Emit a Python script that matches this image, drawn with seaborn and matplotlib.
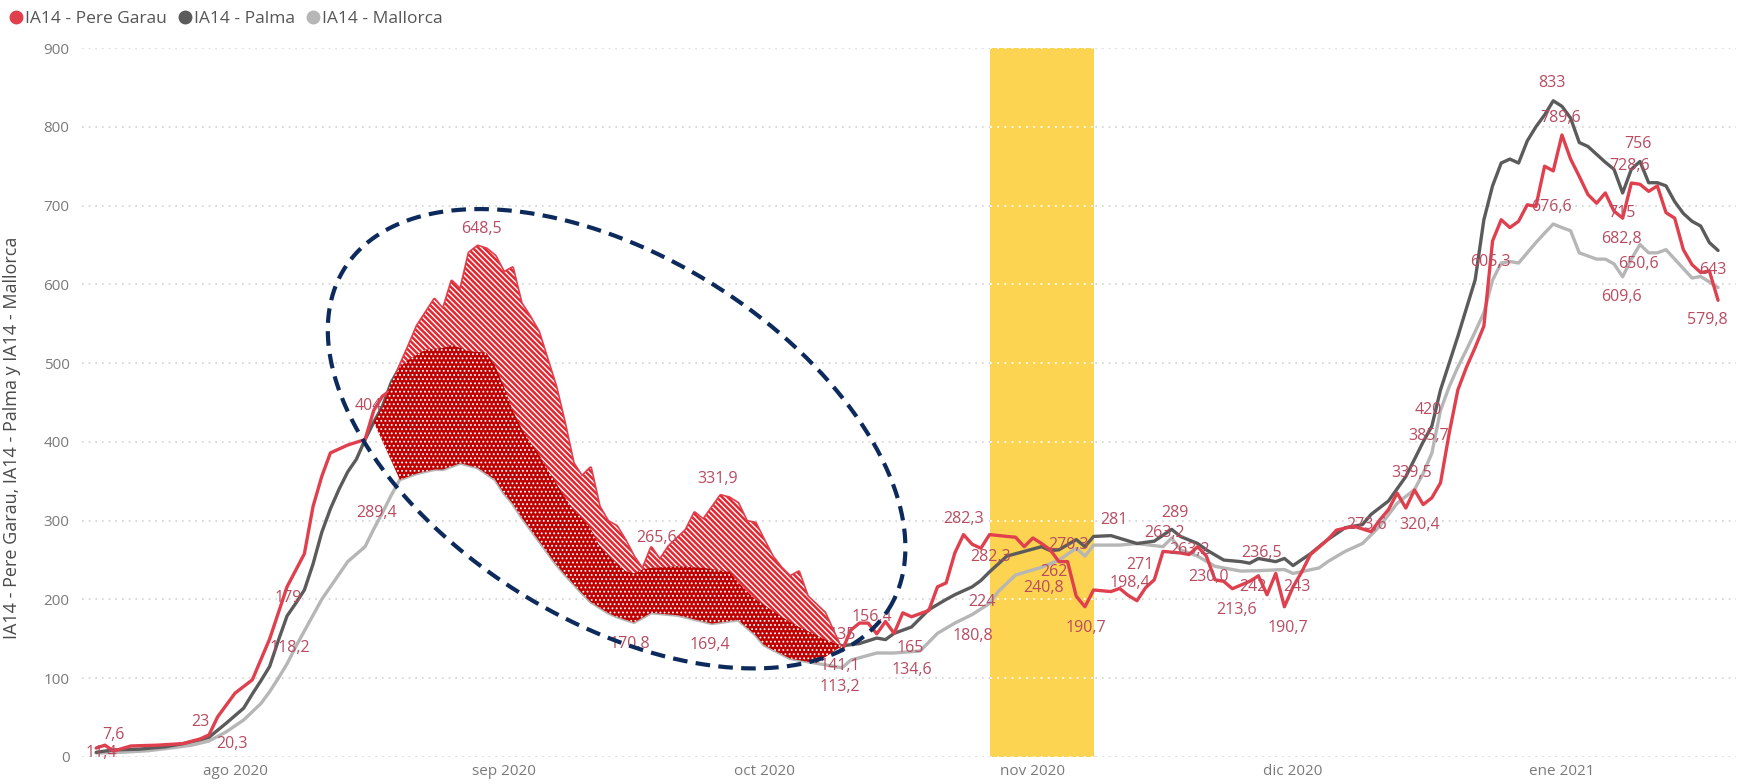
import numpy as np
import pandas as pd
import seaborn as sns
import matplotlib
matplotlib.use("Agg")
import matplotlib.pyplot as plt
import matplotlib.dates as mdates
from matplotlib.lines import Line2D

# ---- data ----------------------------------------------------------------
PERE_GARAU = "IA14 - Pere Garau"
PALMA = "IA14 - Palma"
MALLORCA = "IA14 - Mallorca"

pg_dates = (
    ["2020-07-16", "2020-07-17", "2020-07-18", "2020-07-20", "2020-07-23", "2020-07-26", "2020-07-28", "2020-07-29", "2020-07-30"]
    + ["2020-08-%02d" % d for d in [1, 3, 5, 7, 9, 10, 11, 12, 14, 16, 17, 18, 19, 20, 21, 22, 24, 25, 26, 27, 28, 29, 30, 31]]
    + ["2020-09-%02d" % d for d in [1, 2, 3, 4, 5, 6, 7, 8, 9, 10, 11, 12, 13, 14, 15, 16, 17, 18, 19, 20, 22, 23, 24, 26, 27, 28, 29, 30]]
    + ["2020-10-%02d" % d for d in [1, 2, 3, 4, 5, 6, 8, 10, 11, 12, 13, 14, 15, 16, 17, 18, 20, 21, 22, 23, 24, 25, 26, 27, 29, 30, 31]]
    + ["2020-11-%02d" % d for d in [1, 2, 3, 4, 5, 6, 7, 8, 10, 11, 12, 13, 14, 15, 16, 18, 19, 20, 21, 22, 23, 24, 26, 27, 28, 29, 30]]
    + ["2020-12-%02d" % d for d in [1, 2, 3, 5, 6, 8, 10, 11, 12, 13, 14, 15, 16, 17, 18, 19, 20, 21, 22, 23, 24, 25, 26, 27, 28, 29, 30, 31]]
    + ["2021-01-%02d" % d for d in range(1, 20)]
)
pg_values = [
    11.4, 15, 7.6, 14, 15, 17, 23, 28, 51,
    81, 98, 150, 216, 258, 318, 356, 386, 396, 403, 440, 458, 466, 496, 521, 547, 581, 568, 604, 593, 640, 648.5, 645, 636,
    615, 621, 576, 559, 540, 505, 470, 424, 373, 356, 367, 318, 299, 293, 275, 254, 238, 265.6, 250, 267, 288, 310, 301, 331.9, 329, 322, 299, 297,
    275, 254, 240, 229, 235, 204, 183, 135, 161, 170, 170, 156.4, 172, 157, 183, 178, 186, 216, 221, 259, 282.3, 270, 265, 282.3, 280, 279, 267,
    278, 271, 263, 248, 248, 204, 190.7, 212, 210, 214, 205, 198.4, 215, 225, 261, 259, 257, 267, 255, 225, 223, 213.6, 223, 230, 206, 233, 190.7,
    216, 235, 257, 276, 288, 293, 286, 301, 314, 335, 316, 339, 320.4, 329, 348, 411, 466, 495, 520, 547, 655, 682, 672, 680, 701, 699, 750, 744,
    789.6, 759, 737, 714, 703, 716, 693, 684, 728.6, 727, 718, 725, 691, 684, 644, 625, 615, 617, 579.8,
]

palma_dates = (
    ["2020-07-%02d" % d for d in [16, 18, 21, 24, 26, 28, 29, 31]]
    + ["2020-08-%02d" % d for d in [2, 3, 4, 5, 6, 7, 8, 9, 10, 11, 12, 13, 14, 15, 16, 17, 18, 19, 20, 21, 23, 25, 26, 28, 30, 31]]
    + ["2020-09-%02d" % d for d in [1, 2, 3, 4, 5, 6, 7, 8, 9, 10, 11, 12, 13, 14, 15, 16, 17, 18, 21, 24, 27, 28, 30]]
    + ["2020-10-%02d" % d for d in [1, 3, 5, 7, 8, 10, 12, 14, 15, 16, 18, 20, 22, 23, 25, 26, 27, 29, 31]]
    + ["2020-11-%02d" % d for d in [2, 3, 4, 6, 7, 8, 10, 13, 15, 17, 18, 20, 21, 23, 25, 26, 27, 29, 30]]
    + ["2020-12-%02d" % d for d in [1, 3, 5, 7, 9, 10, 12, 14, 15, 16, 17, 18, 20, 22, 23, 24, 25, 26, 27, 28, 29, 30, 31]]
    + ["2021-01-%02d" % d for d in range(1, 20)]
)
palma_values = [
    6, 9, 10, 13, 17, 22, 25, 43,
    62, 80, 97, 115, 148, 179, 195, 212, 245, 285, 315, 340, 362, 378, 403, 425, 445, 475, 495, 504, 517, 519, 523, 515, 513, 496,
    470, 440, 418, 400, 385, 365, 348, 330, 314, 303, 290, 268, 256, 246, 236, 233, 238, 240, 242, 240, 235, 222, 200,
    193, 178, 165, 155, 149, 141.1, 144, 151, 149, 157, 165, 187, 200, 206, 216, 224, 235, 255, 261,
    267, 262, 263, 276, 267, 280, 281, 271, 274, 289, 280, 271, 263, 250, 248, 246, 252, 248, 252,
    243, 258, 276, 291, 295, 308, 325, 356, 378, 400, 420, 466, 534, 606, 682, 725, 754, 759, 754, 782, 800, 815, 833,
    826, 811, 780, 775, 765, 755, 746, 716, 746, 756, 729, 729, 725, 705, 690, 680, 674, 653, 643,
]

mallorca_dates = (
    ["2020-07-%02d" % d for d in [16, 19, 22, 25, 27, 29, 31]]
    + ["2020-08-%02d" % d for d in [2, 4, 5, 6, 7, 8, 10, 11, 13, 14, 16, 17, 18, 19, 20, 22, 24, 25, 27, 29, 31]]
    + ["2020-09-%02d" % d for d in [1, 2, 3, 4, 5, 6, 7, 8, 9, 10, 11, 12, 13, 14, 16, 18, 21, 25, 28, 30]]
    + ["2020-10-%02d" % d for d in [1, 4, 7, 10, 11, 14, 16, 19, 21, 23, 25, 27, 28, 30]]
    + ["2020-11-%02d" % d for d in [2, 4, 6, 7, 8, 11, 13, 16, 17, 18, 20, 22, 25, 27, 30]]
    + ["2020-12-%02d" % d for d in [1, 4, 5, 7, 9, 11, 13, 15, 16, 17, 18, 19, 20, 21, 22, 23, 24, 25, 26, 27, 28, 29, 30, 31]]
    + ["2021-01-%02d" % d for d in range(1, 20)]
)
mallorca_values = [
    5, 6, 8, 12, 15, 20.3, 32,
    47, 68, 83, 100, 118.2, 140, 180, 200, 232, 248, 267, 289.4, 310, 332, 352, 360, 365, 365, 373, 367, 352,
    335, 322, 305, 290, 275, 260, 245, 232, 220, 208, 197, 190, 183, 178, 170.8, 183, 180, 169.4, 174, 155,
    142, 125, 119, 113.2, 123, 132, 132, 134.6, 157, 170, 180.8, 195, 210, 231,
    240.8, 250, 265, 255, 269, 269, 271, 267, 278, 263, 255, 242, 236, 236.5, 238,
    233, 240, 248, 261, 271, 293, 322, 339.5, 360, 385.7, 440, 470, 495, 517, 540, 564, 605.3, 627, 629, 627, 640, 653, 665, 676.6,
    672, 668, 640, 636, 632, 632, 626, 609.6, 632, 650.6, 640, 640, 644, 632, 620, 608, 610, 603, 596,
]

# data labels as shown by Power BI: text, days after 1 Aug 2020, height
label_texts = ["11,4", "7,6", "23", "20,3", "179", "118,2", "404,6", "289,4", "648,5", "265,6", "331,9",
               "170,8", "169,4", "135", "156,4", "141,1", "113,2", "165", "134,6", "180,8", "224", "282,3",
               "282,3", "240,8", "262", "270,3", "190,7", "281", "198,4", "271", "263,2", "289", "263,2",
               "230,0", "213,6", "242", "236,5", "190,7", "243", "273,6", "339,5", "320,4", "385,7", "420",
               "605,3", "833", "789,6", "676,6", "715", "682,8", "609,6", "728,6", "756", "650,6", "643", "579,8"]
label_days = [-15.4, -14.0, -4.0, -0.4, 6.1, 6.3, 16.1, 16.3, 28.4, 48.6, 55.7,
              45.5, 54.8, 70.0, 73.4, 69.8, 69.8, 77.8, 78.0, 85.1, 86.1, 84.0,
              87.1, 93.2, 94.4, 96.1, 98.1, 101.3, 103.2, 104.3, 107.2, 108.4, 110.1,
              112.2, 115.5, 117.4, 118.4, 121.4, 122.4, 130.5, 135.7, 136.6, 137.6, 137.6,
              144.7, 151.8, 152.8, 151.8, 159.9, 159.9, 159.9, 160.8, 161.8, 161.8, 170.4, 169.8]
label_values = [5, 28, 45, 17, 202, 138, 445, 310, 670, 278, 353,
                144, 142, 155, 178, 115, 89, 138, 110, 153, 197, 302,
                254, 214, 235, 269, 164, 301, 221, 244, 284, 310, 263,
                228, 187, 216, 259, 164, 216, 295, 360, 295, 407, 441,
                628, 856, 811, 698, 690, 657, 584, 750, 778, 626, 618, 555]

month_ticks = ["2020-08-01", "2020-09-01", "2020-10-01", "2020-11-01", "2020-12-01", "2021-01-01"]
month_labels = ["ago 2020", "sep 2020", "oct 2020", "nov 2020", "dic 2020", "ene 2021"]
y_ticks = list(range(0, 1000, 100))

band_start, band_end = "2020-10-27", "2020-11-08"
hatch_span = ("2020-08-20", "2020-10-10")
dots_top_span = ("2020-08-17", "2020-10-10")
dots_bottom_span = ("2020-08-20", "2020-10-07")
ellipse_center = ("2020-09-14", 404)

# ---- styling ---------------------------------------------------------------
COLORS = {PERE_GARAU: "#E0404E", PALMA: "#5B5B5B", MALLORCA: "#B6B6B6"}
LABEL_COLOR = "#B84B60"
TICK_COLOR = "#7A7A7A"
TEXT_COLOR = "#555555"


def to_frame(name, dates, values):
    assert len(dates) == len(values), name
    return pd.DataFrame({"fecha": pd.to_datetime(dates), "valor": values, "serie": name})


def span(frame, start, end):
    sel = frame[(frame["fecha"] >= start) & (frame["fecha"] <= end)]
    return mdates.date2num(sel["fecha"]), sel["valor"].to_numpy(float)


def fill_between_series(ax, top, bottom, hatch_lw, **kw):
    tx, ty = top
    bx, by = bottom
    with plt.rc_context({"hatch.linewidth": hatch_lw}):
        patch, = ax.fill(np.concatenate([tx, bx[::-1]]), np.concatenate([ty, by[::-1]]), **kw)
    if hasattr(patch, "set_hatch_linewidth"):
        patch.set_hatch_linewidth(hatch_lw)
    return patch


def main():
    sns.set_theme(style="white")
    plt.rcParams["font.family"] = ["Open Sans", "DejaVu Sans"]

    pg = to_frame(PERE_GARAU, pg_dates, pg_values)
    pa = to_frame(PALMA, palma_dates, palma_values)
    ma = to_frame(MALLORCA, mallorca_dates, mallorca_values)
    df = pd.concat([ma, pa, pg], ignore_index=True)

    fig = plt.figure(figsize=(17.43, 7.84), dpi=100)
    ax = fig.add_axes([82 / 1743, 27 / 784, 1654 / 1743, 709 / 784])

    sns.lineplot(data=df, x="fecha", y="valor", hue="serie",
                 hue_order=[MALLORCA, PALMA, PERE_GARAU], palette=COLORS,
                 linewidth=2.4, errorbar=None, legend=False, ax=ax, zorder=2)

    x0 = pd.Timestamp("2020-08-01") - pd.Timedelta(days=17.64)
    x1 = pd.Timestamp("2020-08-01") + pd.Timedelta(days=173.07)
    ax.set_xlim(x0, x1)
    ax.set_ylim(0, 900)

    # yellow highlight band, grid dots stay white on top of it
    b0, b1 = pd.Timestamp(band_start), pd.Timestamp(band_end)
    ax.axvspan(b0, b1, color="#FDD451", lw=0, zorder=1)
    for v in y_ticks:
        ax.plot([b0, b1], [v, v], color="white", lw=1.3, ls=(0, (1, 3)), zorder=1.1)

    # highlighted areas
    fill_between_series(ax, span(pg, *hatch_span), span(pa, *hatch_span), 1.0,
                        facecolor="#E3262F", edgecolor="white", hatch="\\" * 6, linewidth=0, zorder=3)
    fill_between_series(ax, span(pa, *dots_top_span), span(ma, *dots_bottom_span), 0.8,
                        facecolor="#C00000", edgecolor="white", hatch="....", linewidth=0, zorder=3)

    # data labels
    base = pd.Timestamp("2020-08-01")
    for txt, d, v in zip(label_texts, label_days, label_values):
        ax.text(base + pd.Timedelta(days=d), v, txt, ha="center", va="center",
                fontsize=11.5, color=LABEL_COLOR, zorder=2.5)

    # dashed ellipse around the Pere Garau outbreak (axes given in pixels)
    fig.canvas.draw()
    cx, cy = ax.transData.transform((mdates.date2num(pd.Timestamp(ellipse_center[0])), ellipse_center[1]))
    a, b, ang = 321, 182, np.deg2rad(-32)
    t = np.linspace(0, 2 * np.pi, 500)
    px = cx + a * np.cos(t) * np.cos(ang) - b * np.sin(t) * np.sin(ang)
    py = cy + a * np.cos(t) * np.sin(ang) + b * np.sin(t) * np.cos(ang)
    pts = ax.transData.inverted().transform(np.column_stack([px, py]))
    ax.plot(pts[:, 0], pts[:, 1], color="#0C2A5C", lw=3.0, ls=(0, (3.5, 2.0)), zorder=5)

    # axes cosmetics
    sns.despine(ax=ax, left=True, bottom=True)
    ax.set_yticks(y_ticks)
    ax.yaxis.grid(True, color="#D3D3D3", linestyle=(0, (1, 3)), linewidth=1.2)
    ax.set_axisbelow(True)
    ax.set_xticks(pd.to_datetime(month_ticks))
    ax.set_xticklabels(month_labels)
    ax.tick_params(axis="both", length=0, labelsize=11, colors=TICK_COLOR)
    ax.tick_params(axis="y", pad=9)
    ax.tick_params(axis="x", pad=5)
    ax.set_xlabel("")
    ax.set_ylabel("IA14 - Pere Garau, IA14 - Palma y IA14 - Mallorca", fontsize=13, color="#4A4A4A")
    ax.yaxis.set_label_coords(-0.037, 0.45)

    handles = [Line2D([], [], marker="o", ls="", color=COLORS[n], markersize=9) for n in [PERE_GARAU, PALMA, MALLORCA]]
    fig.legend(handles, [PERE_GARAU, PALMA, MALLORCA], loc="center left",
               bbox_to_anchor=(0.0, 1 - 19 / 784), ncol=3, frameon=False, fontsize=12.5,
               handlelength=0.7, handletextpad=0.15, columnspacing=0.7, borderaxespad=0.2,
               labelcolor=TEXT_COLOR)

    fig.savefig("out.png", dpi=100, facecolor="white")


if __name__ == "__main__":
    main()
